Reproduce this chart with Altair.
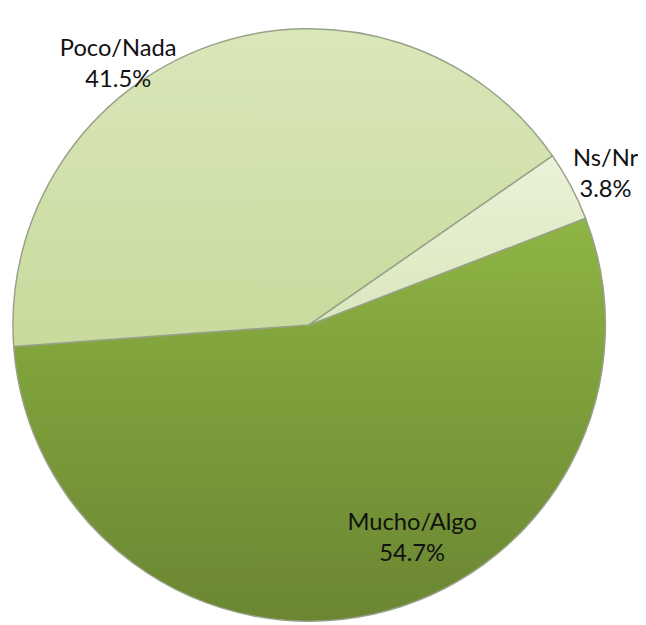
import math
import altair as alt
import pandas as pd

# ---- data ----
categories = ["Mucho/Algo", "Poco/Nada", "Ns/Nr"]
values = [54.7, 41.5, 3.8]
order = [1, 2, 3]

df = pd.DataFrame({"category": categories, "value": values, "order": order})

start_angle = math.radians(68.9)
theta_scale = alt.Scale(domain=[0, 100], range=[start_angle, start_angle + 2 * math.pi])

base = alt.Chart(df).transform_window(
    cum="sum(value)", sort=[alt.SortField("order")], frame=[None, 0]
).transform_calculate(
    start="datum.cum - datum.value",
    mid="datum.cum - datum.value / 2",
    label="datum.category + '\\n' + format(datum.value, '.1f') + '%'",
)


def grad(c0, c1, mid=None):
    stops = [alt.GradientStop(offset=0, color=c0)]
    if mid:
        stops.append(alt.GradientStop(offset=mid[0], color=mid[1]))
    stops.append(alt.GradientStop(offset=1, color=c1))
    return alt.LinearGradient(gradient="linear", x1=0, y1=0, x2=0, y2=1, stops=stops)


slice_fills = {
    "Mucho/Algo": grad("#8FB545", "#6A8632", (0.3, "#82A53D")),
    "Poco/Nada": grad("#DAE7BA", "#C8DA9C"),
    "Ns/Nr": grad("#EAF2D8", "#DAE7BE"),
}


def slice_layer(cat):
    return base.transform_filter(alt.datum.category == cat).mark_arc(
        radius=300, fill=slice_fills[cat], stroke="#98A188", strokeWidth=1.5
    ).encode(
        theta=alt.Theta("start:Q", scale=theta_scale, stack=None),
        theta2="cum:Q",
    )


label_style = {
    "Mucho/Algo": dict(radius=230, dx=54, dy=-24),
    "Poco/Nada": dict(radius=340, dx=-80, dy=41),
    "Ns/Nr": dict(radius=342, dx=-2, dy=-8),
}


def label_layer(cat):
    return base.transform_filter(alt.datum.category == cat).mark_text(
        font="Lato", fontSize=24, lineHeight=32, lineBreak="\n",
        align="center", baseline="middle", color="#111111",
        **label_style[cat],
    ).encode(
        theta=alt.Theta("mid:Q", scale=theta_scale, stack=None),
        text="label:N",
    )


chart = alt.layer(
    *[slice_layer(c) for c in categories],
    *[label_layer(c) for c in categories],
).properties(
    width=610,
    height=584,
    autosize=alt.AutoSizeParams(type="none"),
    padding={"top": 25, "left": 0, "right": 28, "bottom": 8},
).configure_view(stroke=None)

chart.save("out.html", embed_options={"renderer": "svg", "actions": False})
